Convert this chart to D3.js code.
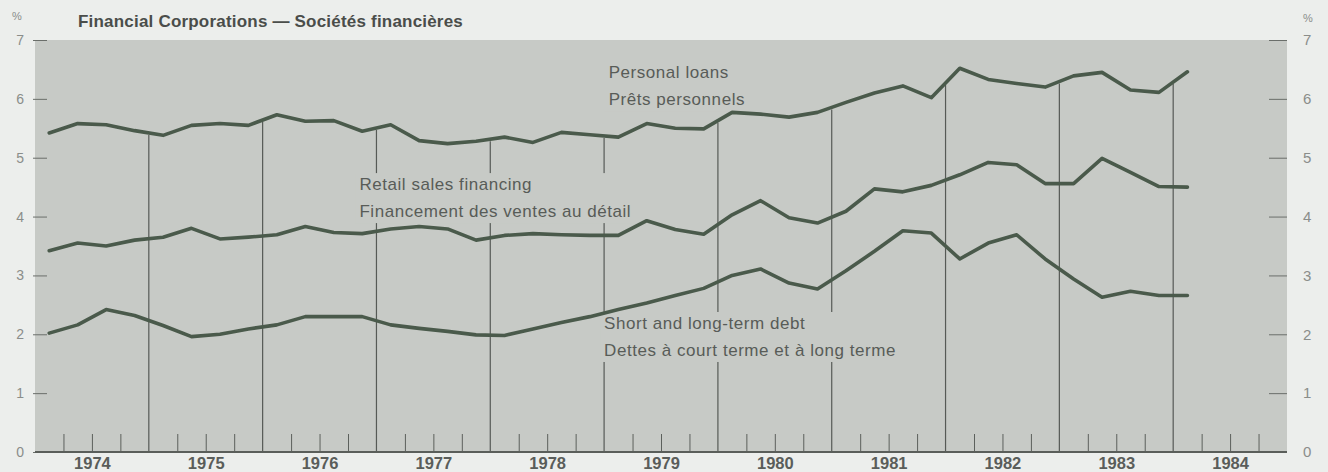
<!DOCTYPE html>
<html><head><meta charset="utf-8">
<script src="https://cdn.jsdelivr.net/npm/d3@7"></script>
<style>
html,body{margin:0;padding:0;background:#eceeec;}
svg{display:block;}
text{font-family:"Liberation Sans",Arial,Helvetica,sans-serif;}
</style></head>
<body><svg id="c" width="1328" height="472"></svg>
<script>
// Quarterly observations, 1974 Q1 .. 1984 Q1
const startYear = 1974;
const years = [1974,1975,1976,1977,1978,1979,1980,1981,1982,1983,1984];
const yTicks = [0,1,2,3,4,5,6,7];
const personalLoans = [5.42,5.58,5.56,5.46, 5.38,5.55,5.58,5.55, 5.73,5.62,5.63,5.45, 5.56,5.29,5.24,5.28,
  5.35,5.26,5.43,5.39, 5.35,5.58,5.50,5.49, 5.77,5.74,5.69,5.77, 5.94,6.10,6.22,6.02,
  6.52,6.33,6.26,6.20, 6.39,6.45,6.15,6.11, 6.46];
const retailSales = [3.42,3.55,3.50,3.60, 3.65,3.80,3.62,3.65, 3.69,3.83,3.73,3.71, 3.79,3.83,3.79,3.60,
  3.68,3.71,3.69,3.68, 3.68,3.93,3.78,3.70, 4.03,4.27,3.98,3.89, 4.09,4.47,4.42,4.53,
  4.71,4.92,4.88,4.56, 4.56,4.99,4.75,4.51, 4.50];
const debt = [2.02,2.16,2.42,2.32, 2.15,1.96,2.00,2.09, 2.16,2.30,2.30,2.30, 2.16,2.10,2.05,1.99,
  1.98,2.09,2.20,2.30, 2.42,2.53,2.66,2.78, 3.00,3.11,2.87,2.77, 3.08,3.41,3.76,3.72,
  3.28,3.55,3.69,3.28, 2.94,2.63,2.73,2.66, 2.66];
const title = "Financial Corporations \u2014 Sociétés financières";
const labelLines = [
  ["Personal loans","Prêts personnels"],
  ["Retail sales financing","Financement des ventes au détail"],
  ["Short and long-term debt","Dettes à court terme et à long terme"]
];
// anchor of each label block: [year, value of first baseline]
const labelAnchors = [[1979.04, 6.35], [1976.85, 4.45], [1979.0, 2.09]];

const svg = d3.select("#c");
const x = d3.scaleLinear().domain([1974, 1985]).range([35, 1287]);
const y = d3.scaleLinear().domain([0, 7]).range([452, 40]);
const t = i => startYear + (i + 0.5) / 4;
const plotFill = "#c7cac6";

// plot background
svg.append("rect").attr("x", x(1974)).attr("y", y(7)).attr("width", x(1985)-x(1974)).attr("height", y(0)-y(7))
  .attr("fill", plotFill);

// title and % signs
svg.append("text").attr("x", 78).attr("y", 27).attr("font-size", 17).attr("font-weight", "bold")
  .attr("letter-spacing", 0.2).attr("fill", "#4a4d4a").text(title);
svg.append("text").attr("x", 12).attr("y", 20).attr("font-size", 11).attr("fill", "#8a8d8a").text("%");
svg.append("text").attr("x", 1303).attr("y", 22).attr("font-size", 11).attr("fill", "#8a8d8a").text("%");

const axisText = (g, size) => g.selectAll("text").attr("font-size", size).attr("fill", "#8a8d8a")
  .style("font-family", "Liberation Sans, Arial, sans-serif");

// axes: left
svg.append("g").attr("transform", `translate(${x(1974)-2},0)`)
  .call(d3.axisRight(y).tickValues(yTicks).tickSize(14).tickFormat(""))
  .call(g => { g.select(".domain").remove(); g.selectAll("line").attr("stroke", "#6a6e6a"); });
svg.append("g").attr("transform", `translate(24,0)`)
  .call(d3.axisLeft(y).tickValues(yTicks).tickSize(0).tickPadding(0).tickFormat(d3.format("d")))
  .call(g => { g.select(".domain").remove(); axisText(g, 14); });
// right
svg.append("g").attr("transform", `translate(${x(1985)},0)`)
  .call(d3.axisLeft(y).tickValues(yTicks).tickSize(18).tickFormat(""))
  .call(g => { g.select(".domain").remove(); g.selectAll("line").attr("stroke", "#6a6e6a"); });
svg.append("g").attr("transform", `translate(1303,0)`)
  .call(d3.axisRight(y).tickValues(yTicks).tickSize(0).tickPadding(0).tickFormat(d3.format("d")))
  .call(g => { g.select(".domain").remove(); axisText(g, 15); });

// bottom: quarter ticks and year labels
const quarterTicks = [];
years.forEach(yr => [0.25, 0.5, 0.75].forEach(q => quarterTicks.push(yr + q)));
svg.append("g").attr("transform", `translate(0,${y(0)})`)
  .call(d3.axisTop(x).tickValues(quarterTicks).tickSize(18).tickFormat(""))
  .call(g => { g.select(".domain").remove(); g.selectAll("line").attr("stroke", "#5c605c"); });
svg.append("g").attr("transform", `translate(0,${y(0)})`)
  .call(d3.axisBottom(x).tickValues(years.map(d => d + 0.5)).tickSize(0).tickPadding(5).tickFormat(d => String(Math.floor(d))))
  .call(g => { g.select(".domain").remove(); g.selectAll("text").attr("font-size", 16.5).attr("font-weight", "bold")
     .attr("fill", "#5a5d5a").style("font-family", "Liberation Sans, Arial, sans-serif"); });

// year boundary lines from personal loans line down to baseline
const plAt = yr => {
  const pos = (yr - startYear) * 4 - 0.5;
  const i0 = Math.max(0, Math.min(personalLoans.length - 2, Math.floor(pos)));
  const f = pos - i0;
  return personalLoans[i0] * (1 - f) + personalLoans[i0 + 1] * f;
};
svg.append("g").selectAll("line").data(years.slice(1)).join("line")
  .attr("x1", d => x(d)).attr("x2", d => x(d))
  .attr("y1", d => y(plAt(d)) + 2).attr("y2", y(0))
  .attr("stroke", "#565a56").attr("stroke-width", 1.2);

// in-plot labels with knockout boxes
labelLines.forEach((lines, li) => {
  const g = svg.append("g");
  const bx = x(labelAnchors[li][0]), by = y(labelAnchors[li][1]);
  const texts = lines.map((txt, k) => g.append("text").attr("x", bx).attr("y", by + k * 27)
      .attr("font-size", 17).attr("fill", "#585c58").attr("letter-spacing", 0.55).text(txt));
  const bb = g.node().getBBox();
  g.insert("rect", "text").attr("x", bb.x - 4).attr("y", bb.y - 2).attr("width", bb.width + 8).attr("height", bb.height + 4)
    .attr("fill", plotFill);
});

// baseline
svg.append("line").attr("x1", x(1974)).attr("x2", x(1985)).attr("y1", y(0)).attr("y2", y(0))
  .attr("stroke", "#5a5e5a").attr("stroke-width", 2);

// series
const line = d3.line().x((d, i) => x(t(i))).y(d => y(d));
[personalLoans, retailSales, debt].forEach(s => {
  svg.append("path").datum(s).attr("d", line).attr("fill", "none")
    .attr("stroke", "#4a5a4b").attr("stroke-width", 3.6).attr("stroke-linejoin", "round").attr("stroke-linecap", "round");
});
</script></body></html>
